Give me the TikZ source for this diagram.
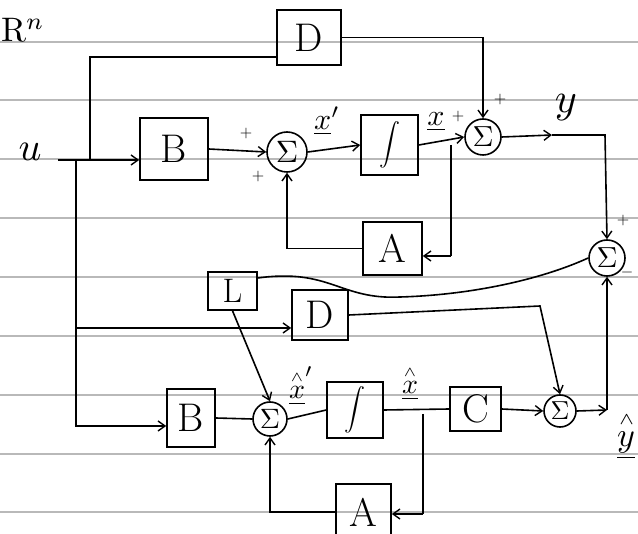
\RequirePackage{fix-cm}
\documentclass[tikz,border=0pt]{standalone}
\usepackage{graphicx}
\usetikzlibrary{arrows.meta}
\newcommand{\bigint}{\scalebox{2.1}{\normalsize$\displaystyle\int$}}
\newcommand{\sm}[2]{\scalebox{#1}{\normalsize$#2$}}
\newcommand{\hatv}[1]{\mathop{#1}\limits^{\scriptscriptstyle\wedge}}
\begin{document}
\begin{tikzpicture}[x=1pt,y=-1pt,
  ink/.style={line width=1.6pt, black},
  arr/.style={ink,-{Straight Barb[length=7pt,width=10pt,line width=1.4pt]}},
  blk/.style={draw,ink,inner sep=0pt,font=\fontsize{40}{40}\selectfont},
  sumn/.style={draw,ink,circle,inner sep=0pt,font=\normalsize},
  lbl/.style={inner sep=0pt,font=\normalsize},
  rule/.style={line width=1.2pt, color=gray!55}]
\useasboundingbox (0,0) rectangle (638,534);
% ruled paper
\foreach \yy in {42,100,159,218,277,336,395,454,512}
  \draw[rule] (0,\yy) -- (638,\yy);
% blocks
\node[blk, minimum width=64pt, minimum height=55pt] (Dt) at (309,37.5) {D};
\node[blk, minimum width=68pt, minimum height=62pt] (Bt) at (174,149) {B};
\node[blk, minimum width=57pt, minimum height=60pt, font=\normalsize] (It) at (389.5,145) {\bigint};
\node[blk, minimum width=59pt, minimum height=53pt] (At) at (392.5,248.5) {A};
\node[blk, minimum width=49pt, minimum height=38pt, font=\fontsize{34}{34}\selectfont] (L) at (232.5,291) {L};
\node[blk, minimum width=56pt, minimum height=50pt] (Dl) at (320,315) {D};
\node[blk, minimum width=48pt, minimum height=58pt] (Bl) at (191,418) {B};
\node[blk, minimum width=56pt, minimum height=56pt, font=\normalsize] (Il) at (355,410) {\bigint};
\node[blk, minimum width=51pt, minimum height=44pt] (C) at (475.5,409) {C};
\node[blk, minimum width=55pt, minimum height=56pt] (Al) at (363.5,512) {A};
% summing junctions
\node[sumn, minimum size=40pt] (Si) at (287,152) {\sm{3.1}{\Sigma}};
\node[sumn, minimum size=36pt] (So) at (483,137) {\sm{2.9}{\Sigma}};
\node[sumn, minimum size=36pt] (Se) at (607,258) {\sm{2.9}{\Sigma}};
\node[sumn, minimum size=34pt] (S1) at (270,419) {\sm{2.8}{\Sigma}};
\node[sumn, minimum size=32pt] (S2) at (560,411) {\sm{2.6}{\Sigma}};
% texts
\node[lbl, anchor=west] (Rn) at (1,30) {\sm{3.4}{\mathrm{R}^{n}}};
\node[lbl] (u) at (30,152) {\sm{4}{u}};
\node[lbl] (y) at (566,108) {\sm{4.2}{y}};
\node[lbl] (xp) at (327,121) {\sm{3}{\underline{x}'}};
\node[lbl] (x) at (436,122) {\sm{3}{\underline{x}}};
\node[lbl] (xhp) at (301,386) {\sm{2.8}{\underline{\hatv{x}}'}};
\node[lbl] (xh) at (410,383) {\sm{2.8}{\underline{\hatv{x}}}};
\node[lbl] (yh) at (626,436) {\sm{3.4}{\underline{\hatv{y}}}};
\node[lbl] (p1) at (246,134) {\sm{1.6}{+}};
\node[lbl] (p2) at (258,177) {\sm{1.6}{+}};
\node[lbl] (p3) at (458,117) {\sm{1.6}{+}};
\node[lbl] (p4) at (500,100) {\sm{1.6}{+}};
\node[lbl] (p5) at (623,221) {\sm{1.6}{+}};
\node[lbl] (m1) at (627,273) {\sm{1.6}{-}};
% coordinates
\coordinate (uend) at (58,160);
\coordinate (ja) at (90,160);
\coordinate (jb) at (76,160);
\coordinate (jc) at (76,426);
\coordinate (jd) at (76,328);
\coordinate (dtin) at (277,57);
\coordinate (jx) at (451,145);
\coordinate (jxa) at (451,256);
\coordinate (ymid) at (552,135);
\coordinate (yc) at (605,135);
\coordinate (jy) at (607,410);
\coordinate (jh) at (423,414);
\coordinate (jha) at (423,514);
\coordinate (dlc) at (540,306);
% connectors, plant
\draw[arr] (uend) -- (Bt.west |- uend);
\draw[ink] (ja) |- (dtin);
\draw[arr] (Bt.east) -- (Si.west);
\draw[arr] (Si.east) -- (It.west);
\draw[arr] (It.east) -- (So.west);
\draw[ink] (jx) -- (jxa);
\draw[arr] (jxa) -- (At.east |- jxa);
\draw[arr] (At.west) -| (Si.south);
\draw[arr] (Dt.east) -| (So.north);
\draw[arr] (So.east) -- (ymid);
\draw[arr] (ymid) -- (yc) -- (Se.north);
% connectors, observer
\draw[arr] (jb) -- (jc) -- (Bl.west |- jc);
\draw[arr] (jd) -- (Dl.west |- jd);
\draw[ink] (Bl.east) -- (S1.west);
\draw[ink] (S1.east) -- (Il.west);
\draw[ink] (Il.east) -- (C.west);
\draw[ink] (jh) -- (jha);
\draw[arr] (jha) -- (Al.east |- jha);
\draw[arr] (Al.west) -| (S1.south);
\draw[arr] (L.south) -- (S1.north);
\draw[arr] (C.east) -- (S2.west);
\draw[arr] (Dl.east) -- (dlc) -- (S2.north);
\draw[arr] (S2.east) -- (jy);
\draw[arr] (jy) -- (Se.south);
\draw[ink] ([yshift=13pt]L.east) .. controls (330,268) and (340,300) .. (400,297)
  .. controls (470,295) and (540,280) .. (Se.west);
\end{tikzpicture}
\end{document}
